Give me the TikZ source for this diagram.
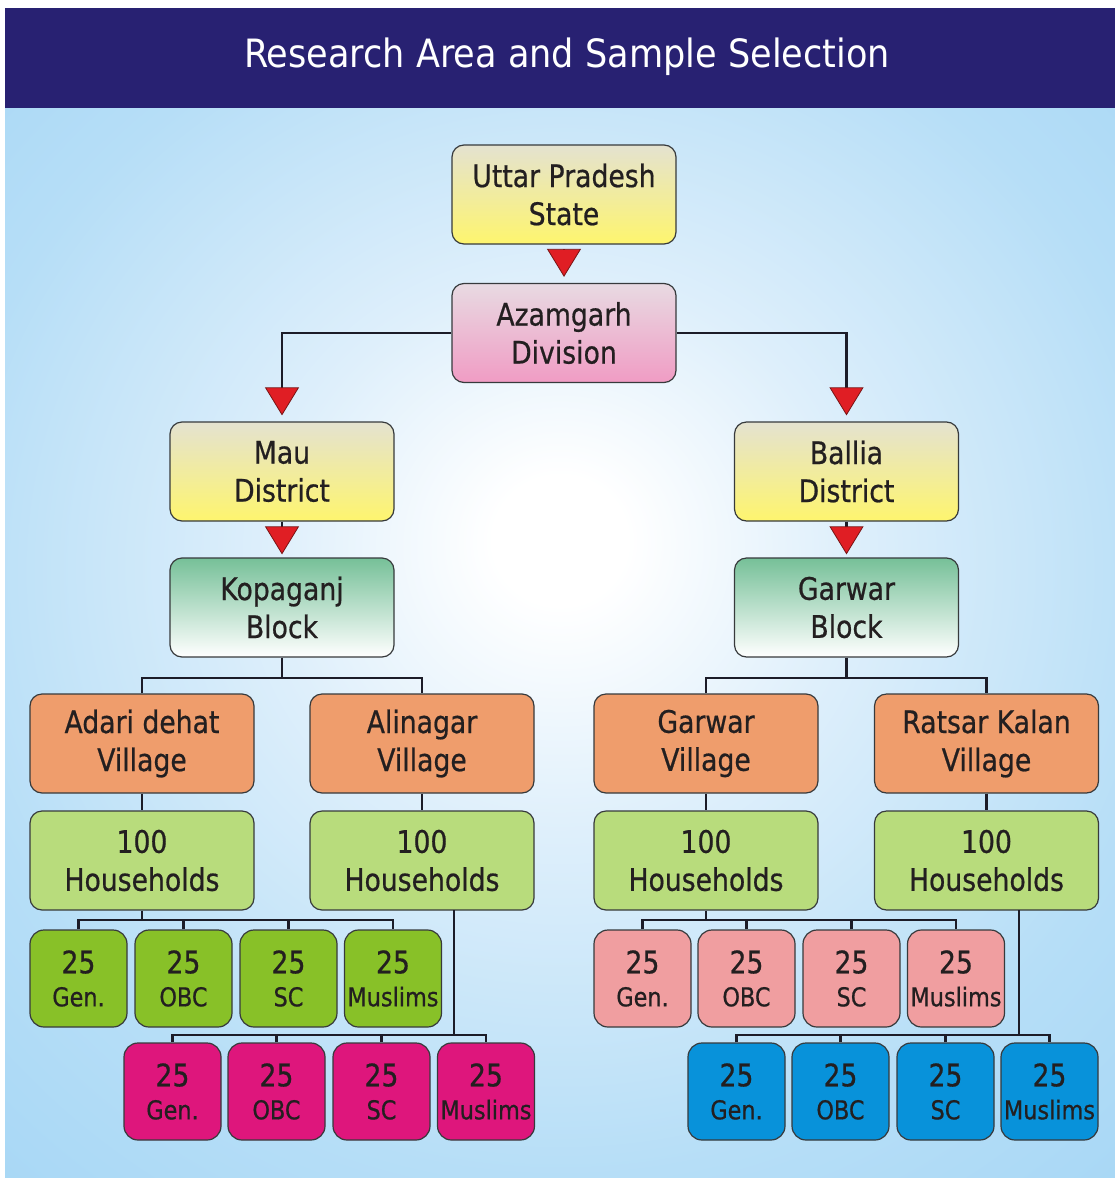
\documentclass[tikz,border=0pt]{standalone}
\usepackage{fontspec}
\newfontfamily\boxfont[FakeStretch=0.86,FakeBold=0.6]{DejaVu Sans}
\newfontfamily\titlefont[FakeStretch=0.9]{DejaVu Sans}
\usetikzlibrary{arrows.meta,calc}
\definecolor{titlebg}{RGB}{40,33,114}
\definecolor{bgA}{RGB}{222,239,251}
\definecolor{bgB}{RGB}{182,222,247}
\definecolor{bgC}{RGB}{150,207,243}
\definecolor{bgD}{RGB}{124,194,238}
\definecolor{boxline}{RGB}{55,58,60}
\definecolor{txt}{RGB}{35,31,32}
\definecolor{lineblack}{RGB}{28,28,40}
\definecolor{tri}{RGB}{224,30,36}
\definecolor{tridark}{RGB}{120,20,20}
\definecolor{yTop}{RGB}{228,226,208}
\definecolor{yBot}{RGB}{254,245,110}
\definecolor{pTop}{RGB}{232,218,226}
\definecolor{pBot}{RGB}{240,156,196}
\definecolor{gTop}{RGB}{118,192,152}
\definecolor{gBot}{RGB}{255,255,255}
\definecolor{orng}{RGB}{239,157,108}
\definecolor{hhgreen}{RGB}{184,220,124}
\definecolor{sgreen}{RGB}{136,193,40}
\definecolor{smag}{RGB}{222,22,124}
\definecolor{spink}{RGB}{240,158,160}
\definecolor{sblue}{RGB}{8,146,218}
\pgfdeclareradialshading{bgshade}{\pgfpoint{0bp}{5bp}}{color(0bp)=(white); color(3bp)=(white); color(13bp)=(bgA); color(28bp)=(bgB); color(50bp)=(bgC); color(72bp)=(bgD)}
\newcommand\cnt[1]{25\\[-5pt]{\fontsize{26}{30}\selectfont #1}}
\tikzset{
  redtri/.tip={Triangle[width=34pt,length=28pt,fill=tri,color=tridark,line width=0.8pt]},
  conn/.style={draw=lineblack, line width=2.6pt},
  box/.style={rectangle, rounded corners=12pt, draw=boxline, line width=1.2pt,
    minimum width=224pt, minimum height=99pt, inner sep=0pt, align=center,
    text=txt, font=\boxfont\fontsize{31}{38}\selectfont},
  ybox/.style={box, top color=yTop, bottom color=yBot},
  pbox/.style={box, top color=pTop, bottom color=pBot},
  gbox/.style={box, top color=gTop, bottom color=gBot},
  obox/.style={box, fill=orng},
  hbox/.style={box, fill=hhgreen},
  sbox/.style={box, rounded corners=14pt, minimum width=97pt, minimum height=97pt},
  sg/.style={sbox, fill=sgreen},
  sm/.style={sbox, fill=smag},
  sp/.style={sbox, fill=spink},
  sb/.style={sbox, fill=sblue},
}
\begin{document}
\begin{tikzpicture}[x=1pt,y=-1pt]
\useasboundingbox (0,0) rectangle (1115,1178);
\fill[white] (0,0) rectangle (1115,1178);
\shade[shading=bgshade] (5,108) rectangle (1115,1178);
\fill[titlebg] (5,8) rectangle (1115,108);
\node[font=\titlefont\fontsize{39}{40}\selectfont, text=white] (title) at (567,57) {Research Area and Sample Selection};

\node[ybox] (uttar) at (564,194.5) {Uttar Pradesh\\State};
\node[pbox] (azam) at (564,333) {Azamgarh\\Division};
\node[ybox] (mau) at (282,471.5) {Mau\\District};
\node[ybox] (ballia) at (846.5,471.5) {Ballia\\District};
\node[gbox] (kopa) at (282,607.5) {Kopaganj\\Block};
\node[gbox] (garb) at (846.5,607.5) {Garwar\\Block};

\node[obox] (adari) at (142,743.5) {Adari dehat\\Village};
\node[obox] (alin) at (422,743.5) {Alinagar\\Village};
\node[obox] (garv) at (706,743.5) {Garwar\\Village};
\node[obox] (rats) at (986.5,743.5) {Ratsar Kalan\\Village};

\node[hbox] (hh1) at (142,860.5) {100\\Households};
\node[hbox] (hh2) at (422,860.5) {100\\Households};
\node[hbox] (hh3) at (706,860.5) {100\\Households};
\node[hbox] (hh4) at (986.5,860.5) {100\\Households};

\node[sg] (g1) at (78.5,978.5) {\cnt{Gen.}};
\node[sg] (g2) at (183.5,978.5) {\cnt{OBC}};
\node[sg] (g3) at (288.5,978.5) {\cnt{SC}};
\node[sg] (g4) at (393,978.5) {\cnt{Muslims}};

\node[sm] (m1) at (172.5,1091.5) {\cnt{Gen.}};
\node[sm] (m2) at (276.5,1091.5) {\cnt{OBC}};
\node[sm] (m3) at (381.5,1091.5) {\cnt{SC}};
\node[sm] (m4) at (486,1091.5) {\cnt{Muslims}};

\node[sp] (p1) at (642.5,978.5) {\cnt{Gen.}};
\node[sp] (p2) at (746.5,978.5) {\cnt{OBC}};
\node[sp] (p3) at (851.5,978.5) {\cnt{SC}};
\node[sp] (p4) at (956,978.5) {\cnt{Muslims}};

\node[sb] (b1) at (736.5,1091.5) {\cnt{Gen.}};
\node[sb] (b2) at (840.5,1091.5) {\cnt{OBC}};
\node[sb] (b3) at (945.5,1091.5) {\cnt{SC}};
\node[sb] (b4) at (1049.5,1091.5) {\cnt{Muslims}};

% arrows
\draw[conn, -redtri, shorten <=7pt, shorten >=6pt] (uttar) -- (azam);
\draw[conn, -redtri, shorten >=6pt] (azam.west) -| (mau.north);
\draw[conn, -redtri, shorten >=6pt] (azam.east) -| (ballia.north);
\draw[conn, -redtri, shorten >=3pt] (mau) -- (kopa);
\draw[conn, -redtri, shorten >=3pt] (ballia) -- (garb);

% block to villages
\coordinate (kj) at (282,678);
\coordinate (gj) at (846.5,678);
\draw[conn] (kopa.south) -- (kj);
\draw[conn] (adari.north) |- (kj) -| (alin.north);
\draw[conn] (garb.south) -- (gj);
\draw[conn] (garv.north) |- (gj) -| (rats.north);

% villages to households
\draw[conn] (adari) -- (hh1);
\draw[conn] (alin) -- (hh2);
\draw[conn] (garv) -- (hh3);
\draw[conn] (rats) -- (hh4);

% households to groups
\coordinate (j1) at (142,920);
\draw[conn] (hh1.south) -- (j1);
\draw[conn] (g1.north) |- (j1) -| (g4.north);
\draw[conn] (g2.north) -- (g2.north |- j1);
\draw[conn] (g3.north) -- (g3.north |- j1);

\coordinate (d2) at (454,910);
\coordinate (j2) at (454,1035);
\draw[conn] (d2) -- (j2);
\draw[conn] (m1.north) |- (j2) -| (m4.north);
\draw[conn] (m2.north) -- (m2.north |- j2);
\draw[conn] (m3.north) -- (m3.north |- j2);

\coordinate (j3) at (706,920);
\draw[conn] (hh3.south) -- (j3);
\draw[conn] (p1.north) |- (j3) -| (p4.north);
\draw[conn] (p2.north) -- (p2.north |- j3);
\draw[conn] (p3.north) -- (p3.north |- j3);

\coordinate (d4) at (1019,910);
\coordinate (j4) at (1019,1035);
\draw[conn] (d4) -- (j4);
\draw[conn] (b1.north) |- (j4) -| (b4.north);
\draw[conn] (b2.north) -- (b2.north |- j4);
\draw[conn] (b3.north) -- (b3.north |- j4);
\end{tikzpicture}
\end{document}
